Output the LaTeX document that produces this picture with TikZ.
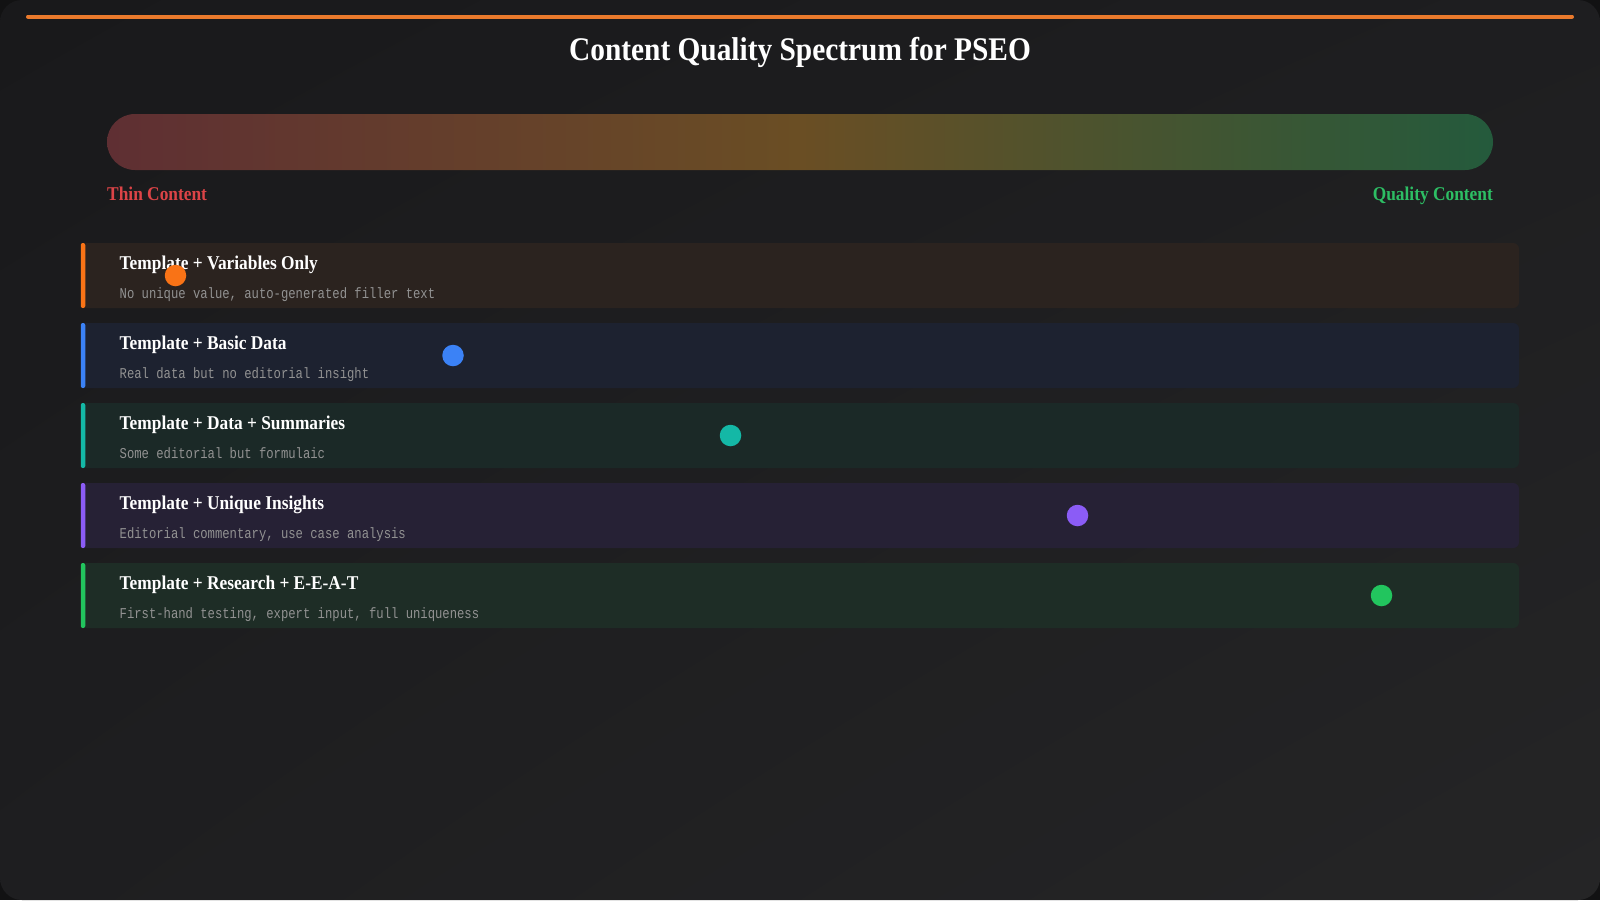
\documentclass[tikz,border=0pt]{standalone}
\usepackage{fontspec}
\setmainfont{Liberation Serif}
\newfontfamily\headfont[FakeStretch=0.89]{Liberation Serif}
\newfontfamily\descfont[FakeStretch=0.815]{Liberation Mono}
\usetikzlibrary{shadings}

\definecolor{edge}{HTML}{121213}
\definecolor{bgtl}{HTML}{19191B}
\definecolor{bgmid}{HTML}{1E1E20}
\definecolor{bgbr}{HTML}{252526}
\definecolor{topline}{HTML}{EA7A2C}
\definecolor{thinred}{HTML}{DC4447}
\definecolor{qualgreen}{HTML}{2DBE64}
\definecolor{descgray}{HTML}{929292}
\definecolor{barL}{RGB}{95,47,51}
\definecolor{barM}{RGB}{106,78,36}
\definecolor{barR}{RGB}{36,90,60}
\definecolor{dotA}{HTML}{F97316}
\definecolor{dotB}{HTML}{3B82F6}
\definecolor{dotC}{HTML}{14B8A6}
\definecolor{dotD}{HTML}{8B5CF6}
\definecolor{dotE}{HTML}{22C55E}
\definecolor{rowA}{HTML}{2B231F}
\definecolor{rowB}{HTML}{1D2230}
\definecolor{rowC}{HTML}{1B2927}
\definecolor{rowD}{HTML}{262135}
\definecolor{rowE}{HTML}{1E2D26}

\pgfdeclarehorizontalshading{spectrum}{100bp}{color(0bp)=(barL); color(25bp)=(barL); color(50bp)=(barM); color(75bp)=(barR); color(100bp)=(barR)}

\begin{document}
\begin{tikzpicture}[x=1pt,y=-1pt,
  row/.style={minimum width=1438pt,minimum height=65pt,rounded corners=6pt,inner sep=0pt},
  accent/.style={minimum width=4.5pt,minimum height=65pt,rounded corners=2pt,inner sep=0pt},
  label/.style={anchor=base,inner sep=0pt,font=\headfont\bfseries\fontsize{19.5}{21}\selectfont},
  rowtitle/.style={anchor=base west,inner sep=0pt,text=white,font=\headfont\bfseries\fontsize{19.5}{21}\selectfont},
  rowdesc/.style={anchor=base west,inner sep=0pt,text=descgray,font=\descfont\fontsize{15}{17}\selectfont},
  dot/.style={circle,minimum size=21.5pt,inner sep=0pt}]
  \useasboundingbox (0,0) rectangle (1600,900);
  % background
  \fill[edge] (0,0) rectangle (1600,900);
  \shade[upper left=bgtl,upper right=bgmid,lower left=bgmid,lower right=bgbr,rounded corners=22pt] (0,0) rectangle (1600,900);
  \draw[topline,line width=4pt,line cap=round] (28,16.5) -- (1572,16.5);
  \node[anchor=base,inner sep=0pt,text=white,font=\headfont\bfseries\fontsize{33}{37}\selectfont] (title) at (800,60) {Content Quality Spectrum for PSEO};
  % spectrum bar
  \node[shade,shading=spectrum,rounded corners=28pt,minimum width=1386pt,minimum height=56pt,inner sep=0pt] (bar) at (800,142) {};
  \node[label,anchor=base west,text=thinred] (thin) at (107,200) {Thin Content};
  \node[label,anchor=base east,text=qualgreen] (quality) at (1493,200) {Quality Content};
  % rows
  \node[row,fill=rowA] (r1) at (800,275.5) {};
  \node[row,fill=rowB] (r2) at (800,355.5) {};
  \node[row,fill=rowC] (r3) at (800,435.5) {};
  \node[row,fill=rowD] (r4) at (800,515.5) {};
  \node[row,fill=rowE] (r5) at (800,595.5) {};
  \node[accent,fill=dotA] (a1) at (83,275.5) {};
  \node[accent,fill=dotB] (a2) at (83,355.5) {};
  \node[accent,fill=dotC] (a3) at (83,435.5) {};
  \node[accent,fill=dotD] (a4) at (83,515.5) {};
  \node[accent,fill=dotE] (a5) at (83,595.5) {};
  \node[rowtitle] (t1) at (119.5,269.5) {Template + Variables Only};
  \node[rowdesc] (d1) at (119.5,298) {No unique value, auto-generated filler text};
  \node[rowtitle] (t2) at (119.5,349.5) {Template + Basic Data};
  \node[rowdesc] (d2) at (119.5,378) {Real data but no editorial insight};
  \node[rowtitle] (t3) at (119.5,429.5) {Template + Data + Summaries};
  \node[rowdesc] (d3) at (119.5,458) {Some editorial but formulaic};
  \node[rowtitle] (t4) at (119.5,509.5) {Template + Unique Insights};
  \node[rowdesc] (d4) at (119.5,538) {Editorial commentary, use case analysis};
  \node[rowtitle] (t5) at (119.5,589.5) {Template + Research + E-E-A-T};
  \node[rowdesc] (d5) at (119.5,618) {First-hand testing, expert input, full uniqueness};
  % markers
  \node[dot,fill=dotA] (p1) at (175.5,275.5) {};
  \node[dot,fill=dotB] (p2) at (453,355.5) {};
  \node[dot,fill=dotC] (p3) at (730.5,435.5) {};
  \node[dot,fill=dotD] (p4) at (1077.5,515.5) {};
  \node[dot,fill=dotE] (p5) at (1381.5,595.5) {};
\end{tikzpicture}
\end{document}
